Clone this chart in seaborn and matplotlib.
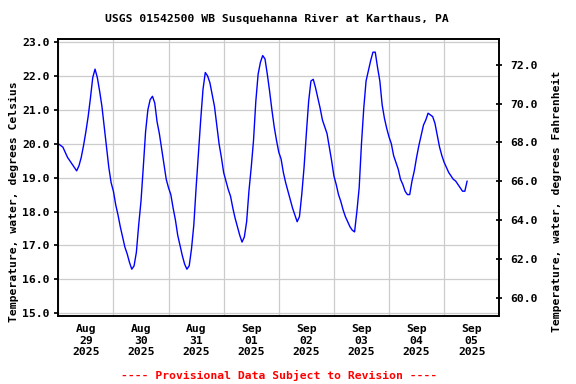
import pandas as pd
import matplotlib
matplotlib.use("Agg")
import matplotlib.pyplot as plt
import matplotlib.dates as mdates
from matplotlib.ticker import FormatStrFormatter, MultipleLocator
import seaborn as sns

# hourly water temperature (deg C)
aug29 = [20.0, 19.95, 19.9, 19.75, 19.6, 19.5, 19.4, 19.3, 19.2, 19.35, 19.6, 19.95,
         20.35, 20.8, 21.35, 21.95, 22.2, 21.95, 21.55, 21.1, 20.5, 19.9, 19.3, 18.85]
aug30 = [18.6, 18.2, 17.9, 17.55, 17.25, 16.95, 16.75, 16.5, 16.3, 16.4, 16.8, 17.6,
         18.3, 19.3, 20.35, 21.0, 21.3, 21.4, 21.2, 20.65, 20.3, 19.85, 19.4, 18.95]
aug31 = [18.7, 18.5, 18.1, 17.75, 17.3, 17.0, 16.7, 16.45, 16.3, 16.4, 16.9, 17.6,
         18.7, 19.7, 20.7, 21.6, 22.1, 22.0, 21.8, 21.45, 21.1, 20.55, 20.0, 19.6]
sep01 = [19.15, 18.9, 18.65, 18.45, 18.1, 17.8, 17.55, 17.3, 17.1, 17.25, 17.7, 18.6,
         19.3, 20.1, 21.25, 22.05, 22.4, 22.6, 22.5, 22.05, 21.55, 21.0, 20.5, 20.1]
sep02 = [19.75, 19.55, 19.15, 18.85, 18.6, 18.35, 18.1, 17.9, 17.7, 17.85, 18.5, 19.3,
         20.3, 21.25, 21.85, 21.9, 21.65, 21.35, 21.05, 20.7, 20.5, 20.3, 19.9, 19.5]
sep03 = [19.05, 18.8, 18.5, 18.3, 18.05, 17.85, 17.7, 17.55, 17.45, 17.4, 18.0, 18.7,
         20.0, 21.05, 21.85, 22.15, 22.45, 22.7, 22.7, 22.25, 21.85, 21.15, 20.75, 20.45]
sep04 = [20.2, 20.0, 19.65, 19.45, 19.25, 18.95, 18.8, 18.6, 18.5, 18.5, 18.9, 19.2,
         19.6, 19.95, 20.25, 20.55, 20.7, 20.9, 20.85, 20.8, 20.6, 20.25, 19.9, 19.65]
sep05 = [19.45, 19.3, 19.15, 19.05, 18.95, 18.9, 18.8, 18.7, 18.6, 18.6, 18.9]

temps = aug29 + aug30 + aug31 + sep01 + sep02 + sep03 + sep04 + sep05
times = pd.date_range("2025-08-29 00:00", periods=len(temps), freq="h")
df = pd.DataFrame({"time": times, "temp_c": temps})

title = "USGS 01542500 WB Susquehanna River at Karthaus, PA"
ylabel_c = "Temperature, water, degrees Celsius"
ylabel_f = "Temperature, water, degrees Fahrenheit"
note = "---- Provisional Data Subject to Revision ----"

sns.set_theme(style="white")
plt.rcParams["font.family"] = ["DejaVu Sans Mono"]
plt.rcParams["font.weight"] = "bold"
plt.rcParams["font.size"] = 8.2
plt.rcParams["text.color"] = "black"
plt.rcParams["xtick.color"] = "black"
plt.rcParams["ytick.color"] = "black"
plt.rcParams["axes.labelcolor"] = "black"

fig = plt.figure(figsize=(5.76, 3.84), dpi=100)
ax = fig.add_axes([0.1012, 0.1771, 0.7656, 0.7206])

sns.lineplot(data=df, x="time", y="temp_c", ax=ax, color="#0000ff", lw=1.0)

ax.set_xlim(pd.Timestamp("2025-08-29"), pd.Timestamp("2025-09-06"))
ax.set_ylim(14.92, 23.08)
ax.yaxis.set_major_locator(MultipleLocator(1.0))
ax.yaxis.set_major_formatter(FormatStrFormatter("%.1f"))

ax.xaxis.set_major_locator(mdates.DayLocator())
ax.xaxis.set_major_formatter(plt.NullFormatter())
ax.xaxis.set_minor_locator(mdates.HourLocator(byhour=12))
ax.xaxis.set_minor_formatter(mdates.DateFormatter("%b\n%d\n%Y"))
ax.tick_params(axis="x", which="both", length=0, pad=6, labelsize=8.2)
ax.tick_params(axis="y", which="major", length=3, direction="out", pad=3,
               left=True, labelsize=8.2, color="black")
for lab in ax.get_xticklabels(minor=True):
    lab.set_fontweight("bold")
    lab.set_linespacing(1.15)

ax.grid(True, which="major", color="#cccccc", lw=0.9)
ax.set_axisbelow(True)
ax.set_xlabel("")
ax.set_ylabel("")
for sp in ax.spines.values():
    sp.set_color("black")
    sp.set_linewidth(1.2)

ax2 = ax.twinx()
ax2.set_ylim(59.09, 73.30)
ax2.set_yticks([60, 62, 64, 66, 68, 70, 72])
ax2.yaxis.set_major_formatter(FormatStrFormatter("%.1f"))
ax2.tick_params(axis="y", length=4, direction="inout", pad=6, labelsize=8.2,
                right=True, color="black")
ax2.grid(False)
for sp in ax2.spines.values():
    sp.set_color("black")
    sp.set_linewidth(1.2)

fig.text(0.481, 0.951, title, ha="center", va="center", fontsize=8.2, fontweight="bold")
fig.text(0.025, 0.476, ylabel_c, rotation=90, ha="center", va="center",
         fontsize=8.2, fontweight="bold")
fig.text(0.967, 0.475, ylabel_f, rotation=90, ha="center", va="center",
         fontsize=8.2, fontweight="bold")
fig.text(0.484, 0.023, note, ha="center", va="center", color="#ff0000",
         fontsize=8.2, fontweight="bold")

fig.savefig("out.png", dpi=100, facecolor="white")
